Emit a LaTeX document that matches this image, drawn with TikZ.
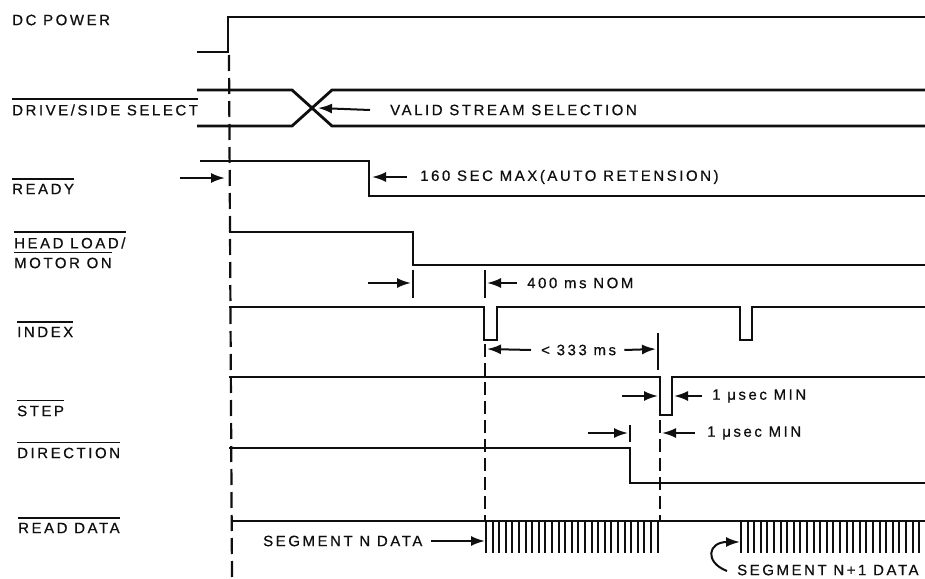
\documentclass[tikz,border=0pt]{standalone}
\usepackage{fontspec}
\usepackage{tikz}
\usetikzlibrary{arrows.meta,calc}
\newfontfamily\tdfont{Liberation Sans}[LetterSpace=17,FakeBold=0.6]
\definecolor{inkblk}{RGB}{15,15,15}
\tikzset{
  wave/.style={line width=2.8pt, color=inkblk, line join=miter},
  refline/.style={line width=2.2pt, color=inkblk, dash pattern=on 16pt off 7pt},
  tickln/.style={line width=1.8pt, color=inkblk},
  tickdash/.style={line width=2pt, color=inkblk, dash pattern=on 13pt off 6pt},
  hatch/.style={line width=2pt, color=inkblk},
  arr/.style={-{Latex[length=14pt,width=10pt]}, line width=2pt, color=inkblk},
  sname/.style={anchor=west, inner sep=0pt, font=\tdfont\fontsize{15}{18}\selectfont, color=inkblk},
  note/.style={anchor=west, inner sep=0pt, font=\tdfont\fontsize{15}{18}\selectfont, color=inkblk},
  bar/.style={line width=1.8pt, color=inkblk}
}
\begin{document}
\begin{tikzpicture}[x=1pt,y=-1pt]
\useasboundingbox (0,0) rectangle (925,578);

%% signal names
\node[sname] (nPower) at (12,20)  {DC POWER};
\node[sname] (nSel)   at (12,110) {DRIVE/SIDE SELECT};
\node[sname] (nReady) at (12,189) {READY};
\node[sname] (nHead)  at (14,243) {HEAD LOAD/};
\node[sname] (nMotor) at (14,263) {MOTOR ON};
\node[sname] (nIndex) at (17,332) {INDEX};
\node[sname] (nStep)  at (17,411) {STEP};
\node[sname] (nDir)   at (17,453) {DIRECTION};
\node[sname] (nRead)  at (18,528) {READ DATA};
\foreach \n in {nSel,nReady,nHead,nMotor,nIndex,nStep,nDir,nRead}
  \draw[bar] ([yshift=5pt]\n.north west) -- ([yshift=5pt]\n.north east);

%% power-on reference
\draw[refline] (229,55) -- (232,578);

%% DC POWER
\draw[wave] (197,52) -- (228,52) -- (228,17) -- (925,17);

%% DRIVE/SIDE SELECT
\draw[wave] (197,90) -- (292,90) -- (332,126) -- (925,126);
\draw[wave] (197,126) -- (292,126) -- (332,90) -- (925,90);
\coordinate (xSel) at (318,108);
\node[note] (tValid) at (390,110) {VALID STREAM SELECTION};
\draw[arr] ([xshift=-20pt]tValid.west) -- (xSel);

%% READY
\draw[wave] (200,161) -- (369,161) -- (369,196) -- (925,196);
\coordinate (xReadyIn) at (225,178);
\draw[arr] (180,178) -- (xReadyIn);
\node[note] (tRetens) at (420,177) {160 SEC MAX(AUTO RETENSION)};
\draw[arr] ([xshift=-13pt]tRetens.west) -- (372,177);

%% HEAD LOAD / MOTOR ON
\draw[wave] (229,232) -- (413,232) -- (413,265) -- (925,265);
\draw[tickln] (413,270) -- (413,298);
\draw[tickln] (485,270) -- (485,298);
\draw[arr] (368,283) -- (411,283);
\node[note] (tNom) at (527,283) {400 ms NOM};
\draw[arr] ([xshift=-10pt]tNom.west) -- (487,283);

%% INDEX
\draw[wave] (229,307) -- (484,307) -- (484,340) -- (497,340) -- (497,307)
  -- (740,307) -- (740,340) -- (752,340) -- (752,307) -- (925,307);
\draw[tickdash] (485,344) -- (485,521);
\draw[tickln] (658,333) -- (658,370);
\node[note] (tRev) at (541,350) {< 333 ms};
\draw[arr] ([xshift=-10pt]tRev.west) -- (487,349);
\draw[arr] ([xshift=8pt]tRev.east) -- (656,349);

%% STEP
\draw[wave] (229,377) -- (660,377) -- (660,415) -- (672,415) -- (672,377) -- (925,377);
\draw[arr] (622,396) -- (658,396);
\node[note] (tStep) at (712,396) {1 μsec MIN};
\draw[arr] ([xshift=-10pt]tStep.west) -- (674,396);

%% DIRECTION
\draw[wave] (229,448) -- (630,448) -- (630,483) -- (925,483);
\draw[tickln] (630,425) -- (630,442);
\draw[tickdash] (660,420) -- (660,521);
\draw[arr] (588,433) -- (628,433);
\node[note] (tDir) at (707,433) {1 μsec MIN};
\draw[arr] ([xshift=-12pt]tDir.west) -- (662,433);

%% READ DATA
\draw[wave] (233,521) -- (925,521);
\foreach \x in {486,492.6,...,660}
  \draw[hatch] (\x,521) -- (\x,553);
\foreach \x in {741,747.6,...,925}
  \draw[hatch] (\x,521) -- (\x,553);
\node[note] (tSegN) at (263,541) {SEGMENT N DATA};
\draw[arr] ([xshift=8pt]tSegN.east) -- (485,541);
\node[note] (tSegM) at (737,570) {SEGMENT N+1 DATA};
\draw[arr] (727,571) .. controls (704,562) and (708,542) .. (740,542);

\end{tikzpicture}
\end{document}
